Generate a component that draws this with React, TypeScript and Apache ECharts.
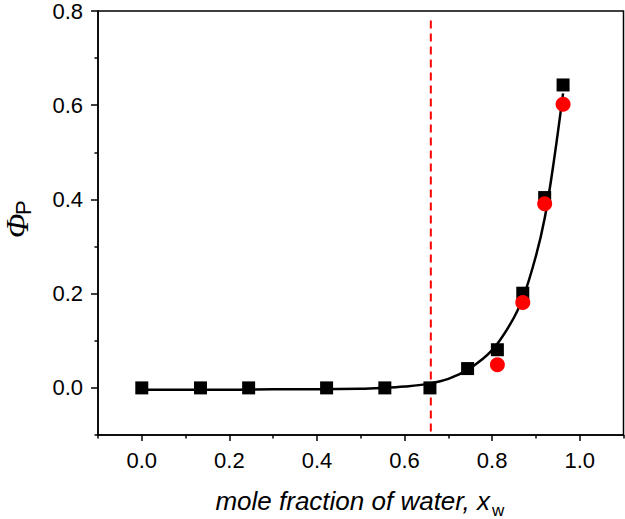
import React, { useEffect, useRef } from "react";
import * as echarts from "echarts";

const squareX = [0.0, 0.134, 0.244, 0.422, 0.555, 0.658, 0.744, 0.812, 0.87, 0.92, 0.962];
const squareY = [0, 0, 0, 0, 0, 0, 0.041, 0.081, 0.201, 0.404, 0.643];
const circleX = [0.812, 0.87, 0.92, 0.962];
const circleY = [0.049, 0.181, 0.391, 0.602];
const fitX = [0, 0.1, 0.2, 0.3, 0.4, 0.5, 0.55, 0.6, 0.65, 0.7, 0.75, 0.8, 0.84, 0.87, 0.9, 0.92, 0.94, 0.962];
const fitY = [-0.004, -0.004, -0.004, -0.003, -0.003, -0.002, 0.0, 0.003, 0.008, 0.019, 0.042, 0.08, 0.133, 0.19, 0.28, 0.36, 0.475, 0.625];
const dashX = [0.66, 0.66];
const dashY = [0.78, -0.1];
const xMajorTicks = [0, 0.2, 0.4, 0.6, 0.8, 1.0];
const xMinorTicks = [-0.1, 0.1, 0.3, 0.5, 0.7, 0.9, 1.1];
const yMajorTicks = [0, 0.2, 0.4, 0.6, 0.8];
const yMinorTicks = [-0.1, 0.1, 0.3, 0.5, 0.7];

const zip = (a: number[], b: number[]) => a.map((v, i) => [v, b[i]]);

export default function App() {
  const ref = useRef<HTMLDivElement>(null);
  useEffect(() => {
    if (!ref.current) return;
    const chart = echarts.init(ref.current, null, { renderer: "svg" });
    const axisFont = { fontFamily: "Liberation Sans", fontSize: 22, color: "#000" };
    const lineStyle = { color: "#000", width: 1.5 };
    chart.setOption({
      animation: false,
      backgroundColor: "#fff",
      grid: {
        left: 98,
        right: 1.5,
        top: 11,
        bottom: 84,
        show: true,
        borderColor: "#000",
        borderWidth: 1.5,
      },
      xAxis: [
        {
          type: "value",
          min: -0.1,
          max: 1.1,
          axisLine: { show: true, onZero: false, lineStyle },
          splitLine: { show: false },
          axisTick: { show: true, length: 6, lineStyle, customValues: xMajorTicks },
          axisLabel: {
            ...axisFont,
            margin: 14,
            customValues: xMajorTicks,
            formatter: (v: number) => v.toFixed(1),
          },
        },
        {
          type: "value",
          min: -0.1,
          max: 1.1,
          position: "bottom",
          axisLine: { show: false, onZero: false },
          splitLine: { show: false },
          axisTick: { show: true, length: 3.5, lineStyle, customValues: xMinorTicks },
          axisLabel: { show: false },
        },
      ],
      yAxis: [
        {
          type: "value",
          min: -0.1,
          max: 0.8,
          axisLine: { show: true, onZero: false, lineStyle },
          splitLine: { show: false },
          axisTick: { show: true, length: 7, lineStyle, customValues: yMajorTicks },
          axisLabel: {
            ...axisFont,
            margin: 15,
            customValues: yMajorTicks,
            formatter: (v: number) => v.toFixed(1),
          },
        },
        {
          type: "value",
          min: -0.1,
          max: 0.8,
          position: "left",
          axisLine: { show: false, onZero: false },
          splitLine: { show: false },
          axisTick: { show: true, length: 3.5, lineStyle, customValues: yMinorTicks },
          axisLabel: { show: false },
        },
      ],
      series: [
        {
          type: "line",
          data: zip(fitX, fitY),
          smooth: 0.35,
          showSymbol: false,
          symbol: "none",
          lineStyle: { color: "#000", width: 2.5 },
          z: 2,
        },
        {
          type: "line",
          data: zip(dashX, dashY),
          showSymbol: false,
          symbol: "none",
          lineStyle: { color: "#ff0000", width: 2, type: [8, 5] },
          z: 3,
        },
        {
          type: "scatter",
          data: zip(squareX, squareY),
          symbol: "rect",
          symbolSize: 13,
          itemStyle: { color: "#000", opacity: 1 },
          z: 4,
        },
        {
          type: "scatter",
          data: zip(circleX, circleY),
          symbol: "circle",
          symbolSize: 15,
          itemStyle: { color: "#ff0000", opacity: 1 },
          z: 5,
        },
      ],
      graphic: [
        {
          type: "group",
          x: 17,
          y: 238,
          rotation: Math.PI / 2,
          children: [
            {
              type: "text",
              x: 0,
              y: 0,
              style: {
                text: "Φ",
                font: "italic 32px 'Liberation Serif'",
                fill: "#000",
                align: "left",
                verticalAlign: "middle",
                textAlign: "left",
                textVerticalAlign: "middle",
              },
            },
            {
              type: "text",
              x: 23,
              y: 6,
              style: {
                text: "P",
                font: "22px 'Liberation Sans'",
                fill: "#000",
                align: "left",
                verticalAlign: "middle",
                textAlign: "left",
                textVerticalAlign: "middle",
              },
            },
          ],
        },
        {
          type: "text",
          x: 490,
          y: 501,
          style: {
            text: "mole fraction of water, x",
            font: "italic 26px 'Liberation Sans'",
            fill: "#000",
            align: "right",
            verticalAlign: "middle",
            textAlign: "right",
            textVerticalAlign: "middle",
          },
        },
        {
          type: "text",
          x: 492,
          y: 510,
          style: {
            text: "w",
            font: "17px 'Liberation Sans'",
            fill: "#000",
            align: "left",
            verticalAlign: "middle",
            textAlign: "left",
            textVerticalAlign: "middle",
          },
        },
      ],
    });
    return () => chart.dispose();
  }, []);
  return (
    <div
      ref={ref}
      style={{ position: "absolute", left: 0, top: 0, width: 625, height: 519 }}
    />
  );
}
